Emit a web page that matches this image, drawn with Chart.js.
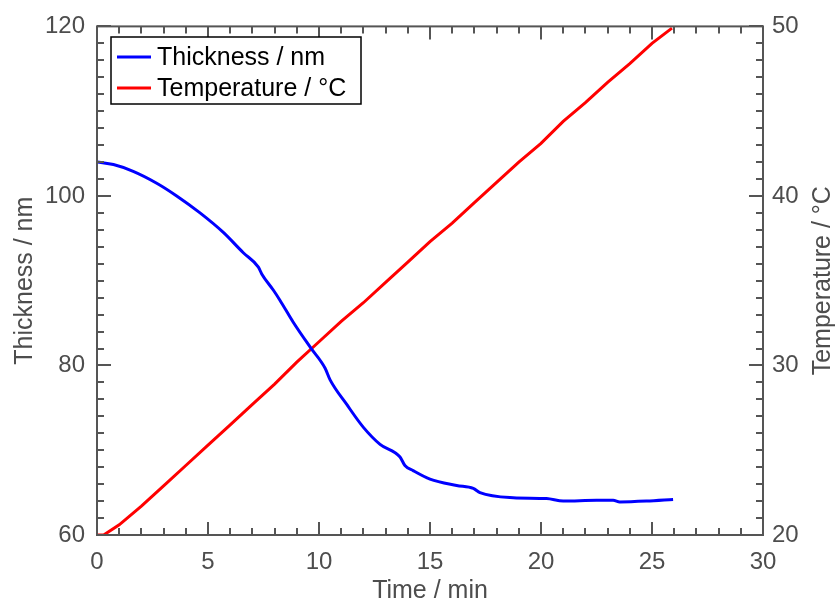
<!DOCTYPE html>
<html>
<head>
<meta charset="utf-8">
<script src="https://cdn.jsdelivr.net/npm/chart.js@4"></script>
<style>
  body { margin: 0; background: #fff; }
  canvas { display: block; }
</style>
</head>
<body>
<canvas id="chart" width="838" height="606"></canvas>
<script>
// ============================
// Data
// ============================
const tempsEpaisseur = [0, 0.74, 1.63, 2.69, 3.59, 4.64, 5.69, 6.59, 7.27, 7.42, 7.94, 8.24, 8.84, 9.62, 10.27, 10.5, 11.25, 12.0, 12.75, 13.65, 13.87, 14.24, 15.0, 16.2, 16.95, 17.25, 18.75, 20.25, 21.0, 22.5, 23.25, 23.55, 24.75, 25.95];
const epaisseur = [104.0, 103.7, 102.9, 101.5, 100.0, 98.0, 95.7, 93.3, 91.6, 90.8, 88.9, 87.7, 85.1, 82.1, 79.7, 78.3, 75.4, 72.7, 70.7, 69.2, 68.2, 67.6, 66.6, 65.85, 65.5, 65.0, 64.4, 64.3, 64.0, 64.1, 64.1, 63.9, 64.0, 64.2];

const tempsTemperature = [0, 0.3, 1, 2, 3, 4, 5, 6, 7, 8, 9, 10, 11, 12, 13, 14, 15, 16, 17, 18, 19, 20, 21, 22, 23, 24, 25, 25.9];
const temperature = [20.0, 20.0, 20.6, 21.7, 22.9, 24.1, 25.3, 26.5, 27.7, 28.9, 30.2, 31.4, 32.6, 33.7, 34.9, 36.1, 37.3, 38.4, 39.6, 40.8, 42.0, 43.1, 44.4, 45.5, 46.7, 47.8, 49.0, 49.9];

const xTicks = [0, 5, 10, 15, 20, 25, 30];
const yTicksGauche = [60, 80, 100, 120];
const yTicksDroite = [20, 30, 40, 50];

const FONT = "'Liberation Sans', Arial, Helvetica, sans-serif";
const GRIS = '#4d4d4d';
const AXE = '#555555';

// ============================
// Frame, inner ticks, right title, legend
// ============================
const cadrePlugin = {
    id: 'cadre',
    afterDraw(chart) {
        const ctx = chart.ctx;
        const a = chart.chartArea;
        const sx = chart.scales.x, sy = chart.scales.y, sy1 = chart.scales.y1;
        ctx.save();
        ctx.strokeStyle = AXE;
        ctx.lineWidth = 2;

        // x ticks (bottom and top), minor every 1 min
        for (let t = 0; t <= 30; t++) {
            const px = Math.round(sx.getPixelForValue(t));
            const len = (t % 5 === 0) ? 13 : 7;
            ctx.beginPath();
            ctx.moveTo(px, a.bottom); ctx.lineTo(px, a.bottom - len);
            ctx.moveTo(px, a.top); ctx.lineTo(px, a.top + len);
            ctx.stroke();
        }
        // left y ticks, minor every 2 nm
        for (let v = 60; v <= 120; v += 2) {
            const py = Math.round(sy.getPixelForValue(v));
            const len = (v % 20 === 0) ? 14 : 7;
            ctx.beginPath();
            ctx.moveTo(a.left, py); ctx.lineTo(a.left + len, py);
            ctx.stroke();
        }
        // right y ticks, minor every 1 °C
        for (let v = 20; v <= 50; v++) {
            const py = Math.round(sy1.getPixelForValue(v));
            const len = (v % 10 === 0) ? 14 : 7;
            ctx.beginPath();
            ctx.moveTo(a.right, py); ctx.lineTo(a.right - len, py);
            ctx.stroke();
        }
        // frame
        ctx.strokeRect(a.left, a.top, a.right - a.left, a.bottom - a.top);

        // right axis title (reads bottom to top)
        ctx.fillStyle = GRIS;
        ctx.font = '25px ' + FONT;
        ctx.textAlign = 'center';
        ctx.textBaseline = 'middle';
        ctx.translate(823, (a.top + a.bottom) / 2);
        ctx.rotate(-Math.PI / 2);
        ctx.fillText('Temperature / °C', 0, 0);
        ctx.restore();

        // legend
        ctx.save();
        ctx.strokeStyle = '#000';
        ctx.lineWidth = 1.5;
        ctx.fillStyle = '#fff';
        ctx.fillRect(111, 37, 250, 67);
        ctx.strokeRect(111, 37, 250, 67);
        ctx.font = '25px ' + FONT;
        ctx.textAlign = 'left';
        ctx.textBaseline = 'middle';
        chart.data.datasets.forEach((ds, i) => {
            const y = 57 + i * 31;
            ctx.strokeStyle = ds.borderColor;
            ctx.lineWidth = 3;
            ctx.beginPath();
            ctx.moveTo(117, y); ctx.lineTo(151, y);
            ctx.stroke();
            ctx.fillStyle = '#000';
            ctx.fillText(ds.label, 157, y + 1);
        });
        ctx.restore();
    }
};

new Chart(document.getElementById('chart').getContext('2d'), {
    type: 'line',
    data: {
        datasets: [
            {
                label: 'Thickness / nm',
                data: tempsEpaisseur.map((t, i) => ({ x: t, y: epaisseur[i] })),
                borderColor: '#0000ff',
                borderWidth: 3,
                pointRadius: 0,
                cubicInterpolationMode: 'monotone',
                yAxisID: 'y'
            },
            {
                label: 'Temperature / °C',
                data: tempsTemperature.map((t, i) => ({ x: t, y: temperature[i] })),
                borderColor: '#ff0000',
                borderWidth: 3,
                pointRadius: 0,
                tension: 0,
                yAxisID: 'y1'
            }
        ]
    },
    options: {
        responsive: false,
        animation: false,
        devicePixelRatio: 1,
        layout: { padding: { top: 22, left: 0, right: 0, bottom: 0 } },
        plugins: { legend: { display: false }, tooltip: { enabled: false } },
        scales: {
            x: {
                type: 'linear',
                min: 0, max: 30,
                afterFit: s => { s.height = 71; },
                afterBuildTicks: s => { s.ticks = xTicks.map(v => ({ value: v })); },
                grid: { display: false, drawTicks: false },
                border: { display: false },
                ticks: { color: GRIS, font: { size: 24, family: FONT }, padding: 13, maxRotation: 0 },
                title: { display: true, text: 'Time / min', color: GRIS, font: { size: 25, family: FONT }, padding: { top: 0, bottom: 0 } }
            },
            y: {
                position: 'left',
                min: 60, max: 120,
                afterFit: s => { s.width = 97; },
                afterBuildTicks: s => { s.ticks = yTicksGauche.map(v => ({ value: v })); },
                grid: { display: false, drawTicks: false },
                border: { display: false },
                ticks: { color: GRIS, font: { size: 24, family: FONT }, padding: 12 },
                title: { display: true, text: 'Thickness / nm', color: GRIS, font: { size: 25, family: FONT }, padding: { top: 10, bottom: 0 } }
            },
            y1: {
                position: 'right',
                min: 20, max: 50,
                afterFit: s => { s.width = 75; },
                afterBuildTicks: s => { s.ticks = yTicksDroite.map(v => ({ value: v })); },
                grid: { display: false, drawTicks: false },
                border: { display: false },
                ticks: { color: GRIS, font: { size: 24, family: FONT }, padding: 9 }
            }
        }
    },
    plugins: [cadrePlugin]
});
</script>
</body>
</html>
